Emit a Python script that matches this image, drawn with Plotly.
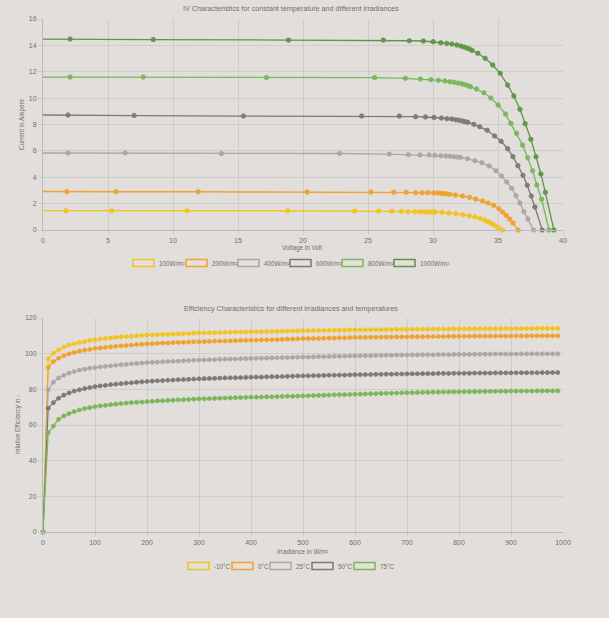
import plotly.graph_objects as go

# ---------------- data ----------------
IRR_LABELS = ["100W/m²", "200W/m²", "400W/m²", "600W/m²", "800W/m²", "1000W/m²"]

IV_100_V = [0, 1.77, 5.29, 11.08, 18.83, 23.97, 25.82, 26.84, 27.57, 28.11, 28.59, 28.98, 29.31, 29.6, 29.83,
            30.0, 30.16, 30.7, 31.21, 31.78, 32.29, 32.78, 33.22, 33.63, 33.99, 34.27, 34.55, 34.78, 35.04, 35.35]
IV_100_I = [1.47, 1.46, 1.46, 1.46, 1.46, 1.44, 1.44, 1.42, 1.42, 1.39, 1.39, 1.39, 1.36, 1.36, 1.36,
            1.36, 1.36, 1.34, 1.29, 1.24, 1.16, 1.08, 0.99, 0.86, 0.74, 0.61, 0.48, 0.33, 0.17, 0]

IV_200_V = [0, 1.83, 5.63, 11.95, 20.32, 25.23, 26.97, 27.95, 28.65, 29.16, 29.6, 30.03, 30.37, 30.62, 30.83,
            31.04, 31.29, 31.73, 32.27, 32.81, 33.29, 33.81, 34.24, 34.66, 35.07, 35.35, 35.63, 35.89, 36.15, 36.55]
IV_200_I = [2.92, 2.90, 2.90, 2.90, 2.88, 2.88, 2.86, 2.86, 2.83, 2.83, 2.83, 2.81, 2.81, 2.78, 2.75,
            2.75, 2.71, 2.65, 2.58, 2.48, 2.35, 2.20, 2.05, 1.87, 1.61, 1.36, 1.11, 0.83, 0.53, 0]

IV_400_V = [0, 1.93, 6.32, 13.72, 22.81, 26.64, 28.11, 29.0, 29.7, 30.13, 30.6, 30.98, 31.29, 31.6, 31.88,
            32.12, 32.65, 33.22, 33.76, 34.32, 34.84, 35.28, 35.68, 36.05, 36.38, 36.69, 36.99, 37.3, 37.74]
IV_400_I = [5.84, 5.84, 5.84, 5.80, 5.80, 5.76, 5.71, 5.69, 5.69, 5.66, 5.63, 5.61, 5.59, 5.56, 5.53,
            5.51, 5.41, 5.25, 5.10, 4.85, 4.50, 4.09, 3.64, 3.16, 2.60, 2.05, 1.39, 0.83, 0]

IV_600_V = [0, 1.93, 7.01, 15.41, 24.51, 27.41, 28.67, 29.42, 30.08, 30.65, 31.08, 31.45, 31.75, 32.01, 32.27,
            32.47, 32.68, 33.14, 33.6, 34.17, 34.74, 35.24, 35.74, 36.15, 36.53, 36.92, 37.25, 37.56, 37.84, 38.4]
IV_600_I = [8.72, 8.72, 8.68, 8.64, 8.64, 8.64, 8.59, 8.57, 8.54, 8.49, 8.44, 8.42, 8.36, 8.32, 8.26,
            8.21, 8.17, 8.01, 7.83, 7.56, 7.13, 6.73, 6.17, 5.56, 4.88, 4.15, 3.39, 2.58, 1.74, 0]

IV_800_V = [0, 2.08, 7.71, 17.19, 25.51, 27.88, 29.03, 29.83, 30.42, 30.91, 31.29, 31.62, 31.93, 32.22, 32.45,
            32.7, 32.89, 33.35, 33.91, 34.45, 35.01, 35.58, 35.99, 36.43, 36.89, 37.28, 37.66, 37.99, 38.36, 38.92]
IV_800_I = [11.6, 11.6, 11.6, 11.56, 11.56, 11.50, 11.45, 11.40, 11.35, 11.30, 11.24, 11.20, 11.14, 11.09, 11.02,
            10.94, 10.86, 10.69, 10.41, 10.01, 9.48, 8.79, 8.09, 7.33, 6.44, 5.48, 4.50, 3.41, 2.33, 0]

IV_1000_V = [0, 2.08, 8.48, 18.88, 26.18, 28.18, 29.26, 30.0, 30.6, 31.06, 31.45, 31.83, 32.14, 32.39, 32.6,
             32.81, 33.01, 33.45, 34.01, 34.6, 35.17, 35.74, 36.22, 36.69, 37.09, 37.53, 37.92, 38.3, 38.64, 39.3]
IV_1000_I = [14.48, 14.48, 14.44, 14.40, 14.40, 14.35, 14.33, 14.28, 14.20, 14.15, 14.10, 14.03, 13.95, 13.87, 13.80,
             13.72, 13.62, 13.40, 13.02, 12.51, 11.88, 10.99, 10.16, 9.15, 8.06, 6.88, 5.56, 4.25, 2.86, 0]

TEMP_LABELS = ["-10°C", "0°C", "25°C", "50°C", "75°C"]
IRRADIANCE = list(range(0, 1000, 10))

EFF_M10 = [0,
           97.1, 100.3, 102.2, 103.7, 104.8, 105.5, 106.3, 106.8, 107.4, 107.8,
           108.2, 108.5, 108.8, 109.1, 109.4, 109.6, 109.8, 110.0, 110.2, 110.4,
           110.5, 110.6, 110.8, 110.9, 111.0, 111.1, 111.2, 111.3, 111.5, 111.6,
           111.7, 111.7, 111.8, 111.9, 111.9, 112.0, 112.1, 112.1, 112.2, 112.3,
           112.3, 112.4, 112.4, 112.5, 112.5, 112.6, 112.7, 112.7, 112.8, 112.9,
           112.9, 113.0, 113.0, 113.0, 113.1, 113.1, 113.2, 113.2, 113.3, 113.3,
           113.3, 113.4, 113.4, 113.4, 113.5, 113.5, 113.5, 113.6, 113.6, 113.6,
           113.7, 113.7, 113.7, 113.7, 113.8, 113.8, 113.8, 113.8, 113.9, 113.9,
           113.9, 113.9, 113.9, 114.0, 114.0, 114.0, 114.0, 114.0, 114.1, 114.1,
           114.1, 114.1, 114.1, 114.1, 114.2, 114.2, 114.2, 114.2, 114.2]
EFF_0 = [0,
         92.2, 95.6, 97.5, 98.8, 99.9, 100.7, 101.4, 102.0, 102.4, 102.9,
         103.2, 103.5, 103.8, 104.1, 104.4, 104.6, 104.8, 105.1, 105.3, 105.5,
         105.6, 105.8, 105.9, 106.0, 106.2, 106.3, 106.4, 106.5, 106.6, 106.7,
         106.8, 106.9, 107.0, 107.1, 107.1, 107.2, 107.3, 107.4, 107.5, 107.6,
         107.6, 107.7, 107.8, 107.8, 107.9, 108.0, 108.1, 108.2, 108.3, 108.4,
         108.4, 108.5, 108.5, 108.6, 108.7, 108.7, 108.8, 108.9, 109.0, 109.1,
         109.1, 109.1, 109.2, 109.2, 109.3, 109.3, 109.3, 109.4, 109.4, 109.4,
         109.5, 109.5, 109.5, 109.6, 109.6, 109.6, 109.6, 109.7, 109.7, 109.7,
         109.7, 109.8, 109.8, 109.8, 109.8, 109.8, 109.9, 109.9, 109.9, 109.9,
         109.9, 109.9, 110.0, 110.0, 110.0, 110.0, 110.0, 110.0, 110.0]
EFF_25 = [0,
          79.7, 84.0, 86.4, 87.9, 89.1, 90.0, 90.8, 91.3, 91.9, 92.2,
          92.6, 92.9, 93.2, 93.5, 93.8, 94.0, 94.3, 94.5, 94.7, 95.0,
          95.1, 95.3, 95.4, 95.6, 95.7, 95.8, 96.0, 96.1, 96.3, 96.4,
          96.5, 96.6, 96.7, 96.8, 96.9, 97.0, 97.0, 97.1, 97.2, 97.3,
          97.4, 97.5, 97.5, 97.6, 97.7, 97.8, 97.8, 97.9, 98.0, 98.1,
          98.1, 98.2, 98.3, 98.3, 98.4, 98.5, 98.5, 98.6, 98.7, 98.8,
          98.8, 98.9, 98.9, 99.0, 99.0, 99.1, 99.1, 99.2, 99.2, 99.2,
          99.3, 99.3, 99.4, 99.4, 99.4, 99.5, 99.5, 99.5, 99.6, 99.6,
          99.6, 99.6, 99.7, 99.7, 99.7, 99.7, 99.8, 99.8, 99.8, 99.8,
          99.8, 99.8, 99.9, 99.9, 99.9, 99.9, 99.9, 99.9, 99.9]
EFF_50 = [0,
          69.4, 72.5, 75.0, 76.7, 78.0, 79.0, 79.7, 80.4, 81.0, 81.5,
          81.9, 82.2, 82.6, 82.9, 83.2, 83.5, 83.7, 84.0, 84.2, 84.4,
          84.6, 84.8, 84.9, 85.1, 85.2, 85.4, 85.5, 85.6, 85.8, 85.9,
          86.0, 86.1, 86.2, 86.3, 86.4, 86.5, 86.5, 86.6, 86.7, 86.8,
          86.9, 86.9, 87.0, 87.1, 87.1, 87.2, 87.3, 87.4, 87.5, 87.6,
          87.6, 87.7, 87.7, 87.8, 87.9, 87.9, 88.0, 88.0, 88.1, 88.2,
          88.2, 88.3, 88.3, 88.4, 88.4, 88.5, 88.5, 88.6, 88.6, 88.7,
          88.7, 88.7, 88.8, 88.8, 88.8, 88.9, 88.9, 88.9, 89.0, 89.0,
          89.0, 89.0, 89.1, 89.1, 89.1, 89.1, 89.2, 89.2, 89.2, 89.2,
          89.3, 89.3, 89.3, 89.3, 89.3, 89.4, 89.4, 89.4, 89.4]
EFF_75 = [0,
          55.7, 59.4, 63.2, 65.1, 66.4, 67.5, 68.4, 69.2, 69.7, 70.3,
          70.7, 71.0, 71.4, 71.7, 72.0, 72.3, 72.5, 72.7, 72.9, 73.1,
          73.3, 73.5, 73.6, 73.8, 73.9, 74.1, 74.2, 74.3, 74.5, 74.6,
          74.7, 74.8, 74.9, 75.0, 75.1, 75.2, 75.3, 75.4, 75.5, 75.6,
          75.6, 75.7, 75.8, 75.8, 75.9, 76.0, 76.1, 76.1, 76.2, 76.3,
          76.4, 76.5, 76.6, 76.7, 76.8, 76.9, 77.0, 77.0, 77.1, 77.2,
          77.3, 77.4, 77.5, 77.6, 77.7, 77.8, 77.8, 77.9, 78.0, 78.1,
          78.1, 78.2, 78.3, 78.3, 78.4, 78.4, 78.5, 78.5, 78.6, 78.6,
          78.7, 78.7, 78.7, 78.8, 78.8, 78.8, 78.9, 78.9, 78.9, 79.0,
          79.0, 79.0, 79.0, 79.0, 79.1, 79.1, 79.1, 79.1, 79.1]

# ---------------- style ----------------
W, H = 609, 618
ML, MR, MT, MB = 43, 46, 19, 86
PW, PH = W - ML - MR, H - MT - MB
BG = "rgb(226,222,219)"
GRID = "rgb(208,204,201)"
AXLINE = "rgb(190,186,183)"
TXT = "#6e6e6e"
FONT = "Liberation Sans, Arial, sans-serif"

YELLOW = "#f3c320"
ORANGE = "#f0a22c"
LGRAY = "#a9a8a7"
DGRAY = "#7b7a79"
LGREEN = "#79b85a"
DGREEN = "#5e9646"

IV_COLORS = [YELLOW, ORANGE, LGRAY, DGRAY, LGREEN, DGREEN]
EFF_COLORS = [YELLOW, ORANGE, LGRAY, DGRAY, LGREEN]


def px_x(px):
    return (px - ML) / PW


def px_y(py):
    return (H - MB - py) / PH


TOP_DOM = [px_y(230), px_y(19)]
BOT_DOM = [px_y(532), px_y(318)]

fig = go.Figure()

iv_sets = [(IV_100_V, IV_100_I), (IV_200_V, IV_200_I), (IV_400_V, IV_400_I),
           (IV_600_V, IV_600_I), (IV_800_V, IV_800_I), (IV_1000_V, IV_1000_I)]
for (v, i), name, col in zip(iv_sets, IRR_LABELS, IV_COLORS):
    sizes = [0] + [4.5] * (len(v) - 1)
    fig.add_trace(go.Scatter(
        x=v, y=i, name=name, mode="lines+markers", xaxis="x", yaxis="y",
        line=dict(color=col, width=1.3),
        marker=dict(size=sizes, color=col, line=dict(color=col, width=0.8), opacity=0.95),
        showlegend=False, cliponaxis=False, hoverinfo="skip"))

eff_sets = [EFF_M10, EFF_0, EFF_25, EFF_50, EFF_75]
for vals, name, col in zip(eff_sets, TEMP_LABELS, EFF_COLORS):
    fig.add_trace(go.Scatter(
        x=IRRADIANCE, y=vals, name=name, mode="lines+markers", xaxis="x2", yaxis="y2",
        line=dict(color=col, width=1.2),
        marker=dict(size=4.2, color=col, line=dict(color=col, width=0.6)),
        showlegend=False, cliponaxis=False, hoverinfo="skip"))

axis_common = dict(
    showgrid=True, gridcolor=GRID, gridwidth=1, zeroline=False,
    showline=True, linecolor=AXLINE, linewidth=1,
    ticks="outside", ticklen=4, tickcolor=GRID,
    tickfont=dict(family=FONT, size=7, color=TXT),
)

fig.update_layout(
    width=W, height=H,
    margin=dict(l=ML, r=MR, t=MT, b=MB),
    paper_bgcolor=BG, plot_bgcolor=BG,
    font=dict(family=FONT, color=TXT),
    hovermode=False,
    xaxis=dict(domain=[0, 1], anchor="y", range=[0, 40], tickmode="linear", tick0=0, dtick=5, **axis_common),
    yaxis=dict(domain=TOP_DOM, anchor="x", range=[0, 16], tickmode="linear", tick0=0, dtick=2, **axis_common),
    xaxis2=dict(domain=[0, 1], anchor="y2", range=[0, 1000], tickmode="linear", tick0=0, dtick=100, **axis_common),
    yaxis2=dict(domain=BOT_DOM, anchor="x2", range=[0, 120], tickmode="linear", tick0=0, dtick=20, **axis_common),
)

annotations = []
shapes = []


def add_text(text, px, py, size, angle=0, xanchor="center"):
    annotations.append(dict(
        text=text, x=px_x(px), y=px_y(py), xref="paper", yref="paper",
        showarrow=False, xanchor=xanchor, yanchor="middle", textangle=angle,
        font=dict(family=FONT, size=size, color=TXT)))


add_text("IV Characteristics for constant temperature and different irradiances", 291, 9, 7.2)
add_text("Efficiency Characteristics for different irradiances and temperatures", 291, 308, 7.2)
add_text("Voltage in Volt", 302, 248, 6.3)
add_text("Current in Ampere", 22, 124, 6.3, angle=-90)
add_text("Irradiance in W/m²", 302, 551, 6.3)
add_text("relative Efficiency in -", 18, 425, 6.3, angle=-90)

# legends (drawn as boxes + labels, Chart.js style)
LEG1_X = [133, 186, 238, 290, 342, 394]
LEG1_Y = 263
LEG2_X = [188, 232, 270, 312, 354]
LEG2_Y = 566
BOX_W, BOX_H = 21, 7


def add_legend(xs, yc, labels, colors):
    for x0, lab, col in zip(xs, labels, colors):
        shapes.append(dict(
            type="rect", xref="paper", yref="paper",
            x0=px_x(x0), x1=px_x(x0 + BOX_W), y0=px_y(yc + BOX_H / 2), y1=px_y(yc - BOX_H / 2),
            line=dict(color=col, width=1.5), fillcolor="rgba(255,255,255,0.08)"))
        add_text(lab, x0 + BOX_W + 3, yc, 6.3, xanchor="left")


add_legend(LEG1_X, LEG1_Y, IRR_LABELS, IV_COLORS)
add_legend(LEG2_X, LEG2_Y, TEMP_LABELS, EFF_COLORS)

fig.update_layout(annotations=annotations, shapes=shapes)

fig.write_html(
    "out.html",
    config={"displayModeBar": False, "staticPlot": True},
    post_script="document.body.style.margin='0';document.body.style.background='" + BG + "';",
)
